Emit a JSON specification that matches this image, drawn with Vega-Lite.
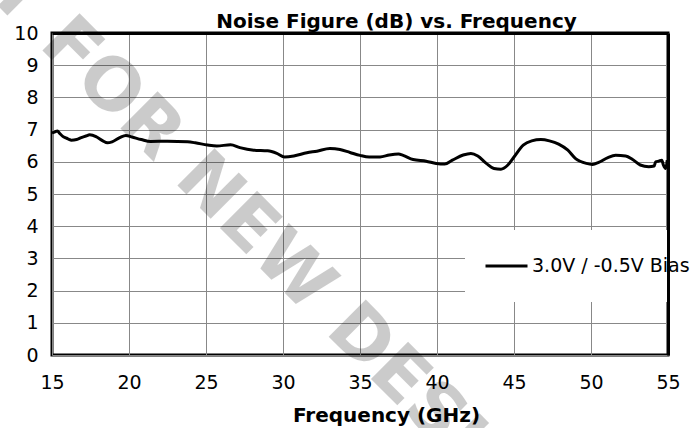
{
  "$schema": "https://vega.github.io/schema/vega-lite/v6.json",
  "width": 616,
  "height": 322,
  "autosize": "none",
  "padding": {"left": 52, "top": 33, "right": 32, "bottom": 73},
  "background": "white",
  "config": {
    "font": "DejaVu Sans",
    "view": {"stroke": "black", "strokeWidth": 3},
    "axis": {
      "gridColor": "#888888",
      "gridWidth": 1,
      "gridOpacity": 1,
      "domain": false,
      "ticks": false,
      "labelColor": "black",
      "labelFontSize": 19,
      "labelFont": "DejaVu Sans",
      "titleFont": "DejaVu Sans",
      "titleColor": "black"
    }
  },
  "resolve": {"axis": {"x": "independent", "y": "independent"}},
  "layer": [
    {
      "data": {"values": [{"label": "NOT FOR NEW DESIGNS"}]},
      "mark": {"type": "text", "angle": 45, "fontSize": 72, "fontWeight": "bold", "fill": "black", "opacity": 0.2, "align": "center", "baseline": "middle"},
      "encoding": {
        "x": {
          "datum": 28.12, "type": "quantitative",
          "scale": {"domain": [15, 55], "nice": false, "zero": false},
          "axis": {
            "orient": "bottom",
            "values": [15, 20, 25, 30, 35, 40, 45, 50, 55],
            "grid": true,
            "title": "Frequency (GHz)",
            "titleFontSize": 20,
            "titleFontWeight": "bold",
            "titleX": 334,
            "titleY": 66,
            "titleBaseline": "alphabetic",
            "titleAlign": "center",
            "labelPadding": 18,
            "labelFlush": false
          }
        },
        "y": {
          "datum": 3.85, "type": "quantitative",
          "scale": {"domain": [0, 10], "nice": false},
          "axis": {
            "orient": "left",
            "values": [0, 1, 2, 3, 4, 5, 6, 7, 8, 9, 10],
            "grid": true,
            "title": null,
            "labelPadding": 14
          }
        },
        "text": {"field": "label", "type": "nominal"}
      }
    },
    {
      "data": {"values": [
        {"f": 15.0, "nf": 6.90}, {"f": 15.2, "nf": 6.93}, {"f": 15.35, "nf": 6.96}, {"f": 15.5, "nf": 6.88},
        {"f": 15.7, "nf": 6.79}, {"f": 15.9, "nf": 6.74}, {"f": 16.1, "nf": 6.70}, {"f": 16.25, "nf": 6.67},
        {"f": 16.6, "nf": 6.69}, {"f": 16.9, "nf": 6.75}, {"f": 17.2, "nf": 6.80}, {"f": 17.45, "nf": 6.84},
        {"f": 17.9, "nf": 6.77}, {"f": 18.3, "nf": 6.65}, {"f": 18.6, "nf": 6.59}, {"f": 18.9, "nf": 6.62},
        {"f": 19.4, "nf": 6.75}, {"f": 19.8, "nf": 6.82}, {"f": 20.2, "nf": 6.77}, {"f": 20.8, "nf": 6.69},
        {"f": 21.4, "nf": 6.63}, {"f": 22.5, "nf": 6.64}, {"f": 23.8, "nf": 6.62}, {"f": 24.3, "nf": 6.59},
        {"f": 25.1, "nf": 6.52}, {"f": 25.7, "nf": 6.49}, {"f": 26.6, "nf": 6.53}, {"f": 27.2, "nf": 6.44},
        {"f": 28.1, "nf": 6.36}, {"f": 29.0, "nf": 6.34}, {"f": 29.6, "nf": 6.26}, {"f": 30.1, "nf": 6.15},
        {"f": 30.7, "nf": 6.18}, {"f": 31.55, "nf": 6.28}, {"f": 32.2, "nf": 6.33}, {"f": 33.05, "nf": 6.41},
        {"f": 33.7, "nf": 6.38}, {"f": 34.35, "nf": 6.29}, {"f": 35.0, "nf": 6.20}, {"f": 35.6, "nf": 6.15},
        {"f": 36.3, "nf": 6.15}, {"f": 36.9, "nf": 6.21}, {"f": 37.5, "nf": 6.24}, {"f": 37.8, "nf": 6.20},
        {"f": 38.45, "nf": 6.07}, {"f": 39.3, "nf": 6.02}, {"f": 39.95, "nf": 5.95}, {"f": 40.5, "nf": 5.93},
        {"f": 41.0, "nf": 6.05}, {"f": 41.7, "nf": 6.21}, {"f": 42.2, "nf": 6.26}, {"f": 42.65, "nf": 6.18},
        {"f": 43.2, "nf": 5.95}, {"f": 43.7, "nf": 5.79}, {"f": 44.15, "nf": 5.77}, {"f": 44.6, "nf": 5.90},
        {"f": 45.0, "nf": 6.15}, {"f": 45.6, "nf": 6.52}, {"f": 46.15, "nf": 6.65}, {"f": 46.75, "nf": 6.69},
        {"f": 47.3, "nf": 6.65}, {"f": 47.9, "nf": 6.55}, {"f": 48.5, "nf": 6.36}, {"f": 49.0, "nf": 6.10},
        {"f": 49.7, "nf": 5.95}, {"f": 50.1, "nf": 5.92}, {"f": 50.5, "nf": 5.98}, {"f": 51.1, "nf": 6.13},
        {"f": 51.6, "nf": 6.20}, {"f": 52.25, "nf": 6.18}, {"f": 52.7, "nf": 6.07}, {"f": 53.2, "nf": 5.90},
        {"f": 53.75, "nf": 5.85}, {"f": 54.1, "nf": 5.87}, {"f": 54.2, "nf": 6.00}, {"f": 54.4, "nf": 6.02},
        {"f": 54.6, "nf": 6.05}, {"f": 54.7, "nf": 5.90}, {"f": 54.85, "nf": 5.79}, {"f": 54.95, "nf": 6.05}
      ]},
      "mark": {"type": "line", "strokeWidth": 3, "interpolate": "monotone"},
      "encoding": {
        "x": {
          "field": "f", "type": "quantitative",
          "axis": {
            "orient": "top",
            "grid": false,
            "labels": false,
            "ticks": false,
            "domain": true,
            "domainColor": "black",
            "domainWidth": 3,
            "title": "Noise Figure (dB) vs. Frequency",
            "titleFontSize": 20,
            "titleFontWeight": "bold",
            "titleX": 344,
            "titleY": -6,
            "titleBaseline": "alphabetic",
            "titleAlign": "center",
            "zindex": 2
          }
        },
        "y": {
          "field": "nf", "type": "quantitative",
          "axis": {
            "orient": "right",
            "grid": false,
            "labels": false,
            "ticks": false,
            "domain": true,
            "domainColor": "black",
            "domainWidth": 3,
            "title": null,
            "zindex": 2
          }
        },
        "color": {
          "datum": "3.0V / -0.5V Bias",
          "type": "nominal",
          "scale": {"range": ["black"]},
          "legend": {
            "orient": "none",
            "legendX": 413,
            "legendY": 197,
            "fillColor": "white",
            "padding": 19,
            "clipHeight": 34,
            "symbolType": "stroke",
            "symbolSize": 1764,
            "symbolStrokeWidth": 3,
            "labelFontSize": 19,
            "labelColor": "black",
            "labelOffset": 3,
            "labelLimit": 300,
            "title": null,
            "zindex": 0
          }
        }
      }
    }
  ]
}
